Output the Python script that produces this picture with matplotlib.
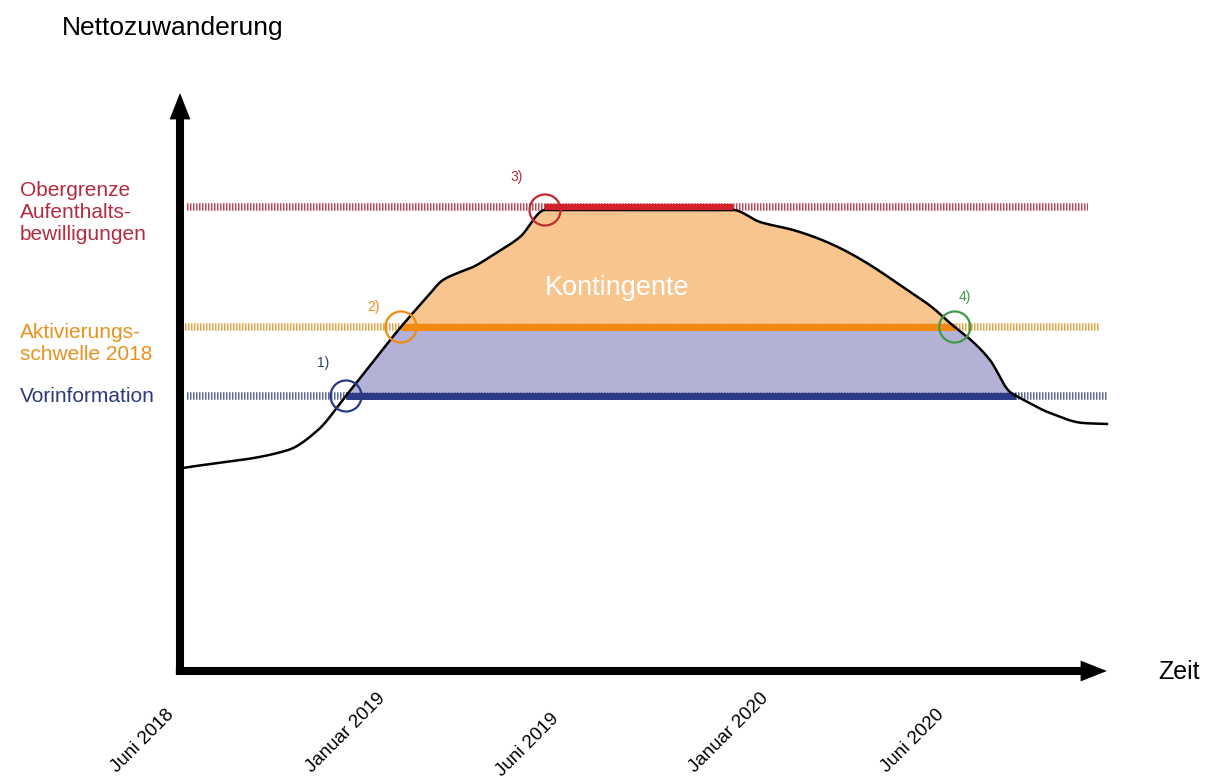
import numpy as np
import matplotlib
matplotlib.use("Agg")
import matplotlib.pyplot as plt

plt.rcParams['font.family'] = ['Liberation Sans', 'DejaVu Sans']

# time in months since Juni 2018, values in arbitrary units
curve_x = [0.1, 3.4, 4.34, 5.19, 6.92, 7.77, 8.27, 8.81, 9.21, 9.84, 10.69, 11.48,
           17.39, 18.24, 19.28, 20.03, 20.75, 21.6, 22.64, 23.68, 24.21, 24.94,
           25.47, 26.1, 26.42, 27.36, 28.4, 29.15]
curve_y = [20.0, 21.8, 23.8, 27.1, 34.0, 37.1, 38.8, 39.6, 40.1, 41.3, 43.1, 45.8,
           45.8, 44.6, 43.8, 43.0, 42.0, 40.5, 38.3, 36.0, 34.5, 32.6,
           30.8, 27.6, 27.0, 25.5, 24.5, 24.4]

lev_red = 46.1      # Obergrenze Aufenthaltsbewilligungen
lev_orange = 34.1   # Aktivierungsschwelle 2018
lev_blue = 27.2     # Vorinformation

tick_labels = ['Juni 2018', 'Januar 2019', 'Juni 2019', 'Januar 2020', 'Juni 2020']
tick_pos = [-0.45, 6.2, 11.65, 18.25, 23.75]
tick_y = [-3.8, -2.2, -4.2, -2.2, -3.8]

c_red, c_red_d, c_red_t = '#d42028', '#b84a5c', '#b52a3c'
c_or, c_or_d, c_or_t = '#f28a12', '#e0a448', '#e8921e'
c_bl, c_bl_d, c_bl_t = '#2b3a86', '#5a6894', '#2c3a7a'
c_green = '#3f9a45'


def pchip(x, y, xs):
    x = np.asarray(x, float)
    y = np.asarray(y, float)
    h = np.diff(x)
    delta = np.diff(y) / h
    d = np.zeros_like(y)
    for k in range(1, len(x) - 1):
        if delta[k - 1] * delta[k] > 0:
            w1 = 2 * h[k] + h[k - 1]
            w2 = h[k] + 2 * h[k - 1]
            d[k] = (w1 + w2) / (w1 / delta[k - 1] + w2 / delta[k])
    d[0] = delta[0]
    d[-1] = delta[-1]
    idx = np.clip(np.searchsorted(x, xs) - 1, 0, len(x) - 2)
    t = (xs - x[idx]) / h[idx]
    h00 = 2 * t**3 - 3 * t**2 + 1
    h10 = t**3 - 2 * t**2 + t
    h01 = -2 * t**3 + 3 * t**2
    h11 = t**3 - t**2
    return (h00 * y[idx] + h10 * h[idx] * d[idx]
            + h01 * y[idx + 1] + h11 * h[idx] * d[idx + 1])


px_per_month = 31.8
fig = plt.figure(figsize=(12.14, 7.8), dpi=100)
ax = fig.add_axes([0, 0, 1, 1])
ax.set_xlim(-180 / px_per_month, (1214 - 180) / px_per_month)
ax.set_ylim(-11.2, 66.8)
ax.axis('off')

cx = np.array(curve_x)
cy = np.array(curve_y)
peak = cy.max()
top_idx = np.where(cy == peak)[0]
x_top0, x_top1 = cx[top_idx[0]], cx[top_idx[-1]]

xs = np.linspace(cx[0], cx[-1], 4000)
ys = pchip(cx, cy, xs)


def crossings(level):
    above = np.where(ys >= level)[0]
    return xs[above[0]], xs[above[-1]]


# fills
ax.fill_between(xs, lev_blue, np.minimum(ys, lev_orange), where=ys >= lev_blue,
                color='#b4b1d6', lw=0, zorder=1)
ax.fill_between(xs, lev_orange, ys, where=ys >= lev_orange,
                color='#f9c58f', lw=0, zorder=1)

# dashed reference levels
dash_kw = dict(lw=5.4, dashes=(0.2, 0.2), zorder=2)
ax.plot([0.22, 28.55], [lev_red, lev_red], color=c_red_d, **dash_kw)
ax.plot([0.16, 28.93], [lev_orange, lev_orange], color=c_or_d, **dash_kw)
ax.plot([0.22, 29.18], [lev_blue, lev_blue], color=c_bl_d, **dash_kw)

# solid parts
bl_l, bl_r = crossings(lev_blue)
or_l, or_r = crossings(lev_orange)
ax.plot([bl_l, bl_r], [lev_blue, lev_blue], color=c_bl, lw=5, solid_capstyle='butt', zorder=3)
ax.plot([or_l, or_r], [lev_orange, lev_orange], color=c_or, lw=5, solid_capstyle='butt', zorder=3)

ax.plot(xs, ys, color='black', lw=1.8, zorder=4)
ax.plot([x_top0, x_top1], [lev_red, lev_red], color=c_red, lw=4.5,
        solid_capstyle='butt', zorder=5)

# circles
circ = dict(s=500, facecolors='none', linewidths=1.6, zorder=6)
ax.scatter([bl_l], [lev_blue], edgecolors=c_bl, **circ)
ax.scatter([or_l], [lev_orange], edgecolors=c_or, **circ)
ax.scatter([x_top0], [peak], edgecolors='#c02a30', **circ)
ax.scatter([or_r], [lev_orange], edgecolors=c_green, **circ)

ax.text(4.5, 30.5, '1)', color=c_bl, fontsize=10, ha='center', va='center')
ax.text(6.07, 36.1, '2)', color=c_or, fontsize=10, ha='center', va='center')
ax.text(10.6, 49.1, '3)', color=c_red_t, fontsize=10, ha='center', va='center')
ax.text(24.69, 37.1, '4)', color=c_green, fontsize=10, ha='center', va='center')

# axes arrows
arr = dict(arrowstyle='simple,head_length=0.95,head_width=0.75,tail_width=0.29',
           mutation_scale=20, color='black', lw=0, shrinkA=0, shrinkB=0)
ax.annotate('', xy=(0, 57.5), xytext=(0, -0.7), arrowprops=arr, zorder=7)
ax.annotate('', xy=(29.15, -0.3), xytext=(-0.13, -0.3), arrowprops=arr, zorder=7)

# texts
ax.text(-3.71, 64.0, 'Nettozuwanderung', fontsize=19, ha='left', va='center')
ax.text(30.75, -0.4, 'Zeit', fontsize=18, ha='left', va='center')
ax.text(13.74, 38.0, 'Kontingente', fontsize=19.5, color='white', ha='center', va='center', zorder=5)
ax.text(-5.03, 45.5, 'Obergrenze\nAufenthalts-\nbewilligungen', color=c_red_t,
        fontsize=15, ha='left', va='center')
ax.text(-5.03, 32.4, 'Aktivierungs-\nschwelle 2018', color=c_or_t,
        fontsize=15, ha='left', va='center')
ax.text(-5.03, 27.1, 'Vorinformation', color=c_bl_t, fontsize=15, ha='left', va='center')

for lab, xp, yp in zip(tick_labels, tick_pos, tick_y):
    ax.text(xp, yp, lab, rotation=45, rotation_mode='anchor', ha='right', va='top',
            fontsize=13.5)

fig.savefig('out.png', dpi=100)
